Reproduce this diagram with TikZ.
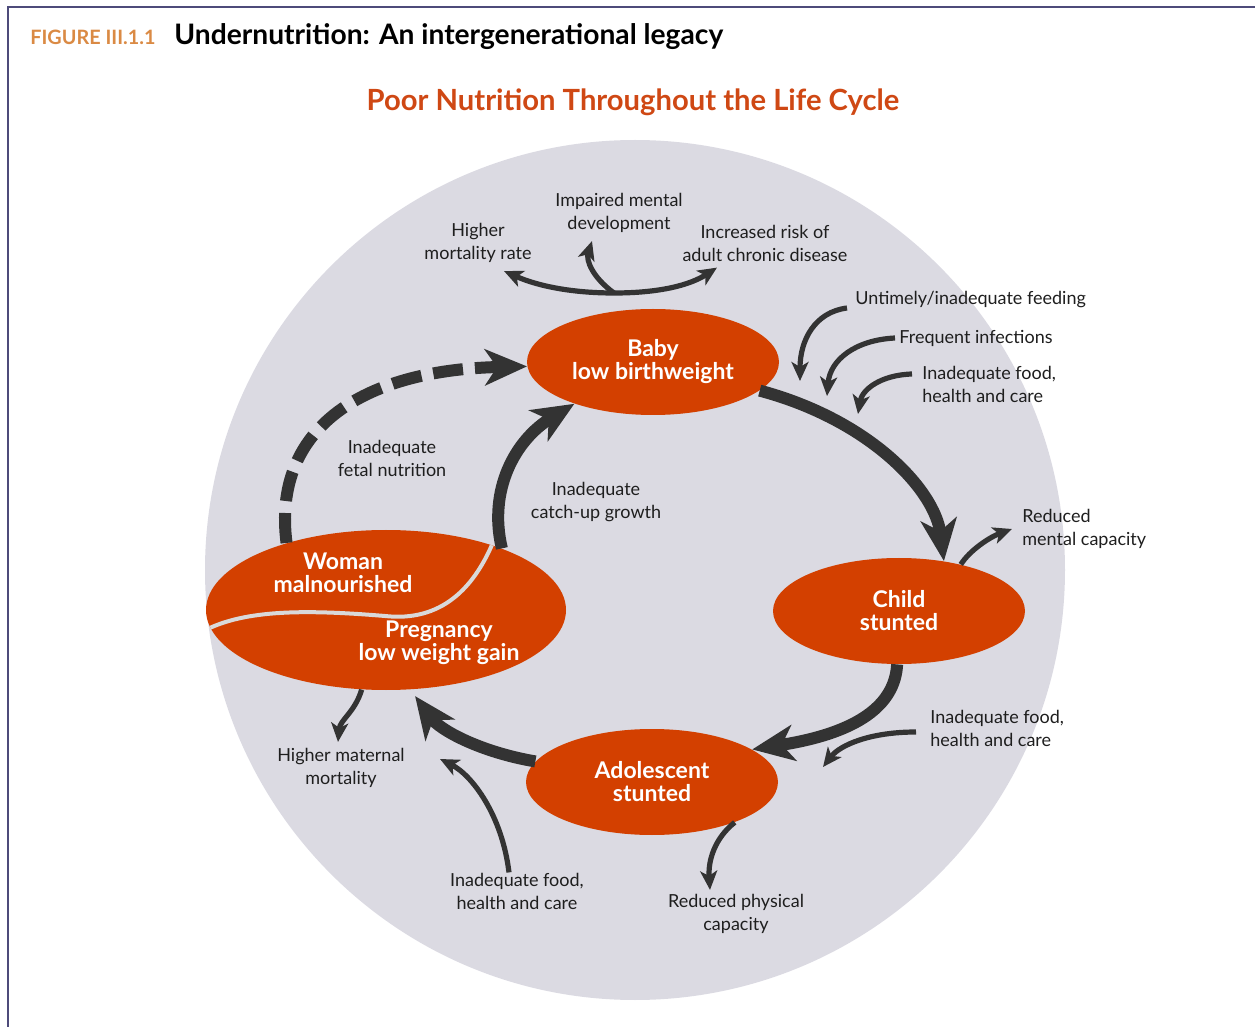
\documentclass[tikz,border=0pt]{standalone}
\usepackage{fontspec}
\setmainfont{Lato}
\usetikzlibrary{shapes.geometric, arrows.meta, positioning}
\definecolor{circlecol}{RGB}{219,218,226}
\definecolor{stagecol}{RGB}{211,64,0}
\definecolor{headcol}{RGB}{207,72,20}
\definecolor{figcol}{RGB}{218,138,68}
\definecolor{arrowcol}{RGB}{51,51,51}
\definecolor{framecol}{RGB}{77,75,122}
\definecolor{splitcol}{RGB}{217,217,217}
\definecolor{notecol}{RGB}{30,30,30}

\begin{document}
\begin{tikzpicture}[
	x=0.5pt, y=-0.5pt,
	stagetext/.style={
		text=white,
		font=\bfseries\fontsize{11.5}{11.5}\selectfont,
		align=center,
		inner sep=0pt
	},
	stage/.style={
		stagetext,
		ellipse,
		fill=stagecol,
		minimum width=126pt,
		minimum height=53pt
	},
	note/.style={
		text=notecol,
		font=\fontsize{9}{11.5}\selectfont,
		align=center,
		inner sep=0pt
	},
	bigarrow/.style={
		draw=arrowcol,
		line width=6pt,
		-{Stealth[length=21pt, width=18pt, inset=6pt]}
	},
	smallarrow/.style={
		draw=arrowcol,
		line width=2.6pt,
		-{Stealth[length=9.5pt, width=8.5pt, inset=2.5pt]}
	}
	]
	\useasboundingbox (0,0) rectangle (1255,1027);
	
	% Frame and titles
	\draw[framecol, line width=1pt] (1255,7) -- (8,7) -- (8,1027);
	\node[anchor=base west, inner sep=0pt, text=figcol, font=\bfseries\fontsize{9.9}{11}\selectfont] (fig) at (30,45) {FIGURE III.1.1};
	\node[anchor=base west, inner sep=0pt, font=\bfseries\fontsize{14.1}{16}\selectfont] (title) at (174,45) {Undernutrition: An intergenerational legacy};
	\node[anchor=base, inner sep=0pt, text=headcol, font=\bfseries\fontsize{14.6}{16}\selectfont] (subtitle) at (633,111) {Poor Nutrition Throughout the Life Cycle};
	
	% Background
	\fill[circlecol] (635,570) circle [radius=430];
	
	% Stages
	\node[stage] (baby) at (653,362) {Baby\\low birthweight};
	\node[stage] (child) at (899,611) {Child\\stunted};
	\node[stage] (adol) at (652,782) {Adolescent\\stunted};
	\node[stage, minimum width=180pt, minimum height=80pt] (woman) at (386,610) {};
	\begin{scope}
		\clip (386,610) ellipse [x radius=180, y radius=80];
		\draw[splitcol, line width=2pt] (200,633) .. controls (240,610) and (300,609) .. (385,616)
			.. controls (440,622) and (475,590) .. (496,535);
	\end{scope}
	\node[stagetext] (womantxt) at (343,573) {Woman\\malnourished};
	\node[stagetext] (pregtxt) at (439,643) {Pregnancy\\low weight gain};
	
	% Notes
	\node[note] (mental) at (619,213) {Impaired mental\\development};
	\node[note] (mortality) at (478,243) {Higher\\mortality rate};
	\node[note] (chronic) at (765,243) {Increased risk of\\adult chronic disease};
	\node[note, anchor=west] (feeding) at (855,300) {Untimely/inadequate feeding};
	\node[note, anchor=west] (infect) at (899,338) {Frequent infections};
	\node[note, anchor=west, align=left] (fooda) at (922,384) {Inadequate food,\\health and care};
	\node[note] (fetal) at (392,458) {Inadequate\\fetal nutrition};
	\node[note] (catchup) at (596,502) {Inadequate\\catch-up growth};
	\node[note, anchor=west, align=left] (mentcap) at (1022,529) {Reduced\\mental capacity};
	\node[note, anchor=west, align=left] (foodb) at (930,728) {Inadequate food,\\health and care};
	\node[note] (maternal) at (341,768) {Higher maternal\\mortality};
	\node[note] (foodc) at (517,891) {Inadequate food,\\health and care};
	\node[note] (physical) at (736,914) {Reduced physical\\capacity};
	
	% Free ends
	\coordinate (fork) at (614,293);
	\coordinate (feedpt) at (800,381);
	\coordinate (infectpt) at (827,396);
	\coordinate (foodapt) at (858,414);
	\coordinate (foodbpt) at (823,767);
	\coordinate (foodcpt) at (440,759);
	
	% Life cycle
	\draw[bigarrow] (baby.345) .. controls (870,420) and (935,490) .. (child.48);
	\draw[bigarrow] (child.268) .. controls (895,705) and (858,733) .. (adol.18);
	\draw[bigarrow, shorten >=4pt] (adol.170) .. controls (480,752) and (440,730) .. (woman.287);
	\draw[bigarrow] (woman.28) .. controls (488,490) and (515,440) .. (baby.208);
	\draw[bigarrow, dash pattern=on 15pt off 6pt] (woman.146) .. controls (272,430) and (360,370) .. (baby.182);
	
	% Effects and causes
	\draw[smallarrow] (fork) .. controls (575,293) and (540,287) .. ([xshift=13pt, yshift=-4pt]mortality.south);
	\draw[smallarrow] (fork) .. controls (660,293) and (690,285) .. ([xshift=-24pt, yshift=-3pt]chronic.south);
	\draw[smallarrow] (fork) .. controls (592,277) and (586,260) .. ([xshift=-13.5pt, yshift=-4pt]mental.south);
	\draw[smallarrow] ([xshift=-4pt, yshift=-4pt]feeding.west) .. controls (815,312) and (800,340) .. (feedpt);
	\draw[smallarrow] ([xshift=-2pt]infect.west) .. controls (855,340) and (830,360) .. (infectpt);
	\draw[smallarrow] ([xshift=-5pt, yshift=5pt]fooda.west) .. controls (880,375) and (862,390) .. (foodapt);
	\draw[smallarrow] (child.37) .. controls (970,550) and (990,537) .. ([xshift=-5pt]mentcap.west);
	\draw[smallarrow] ([xshift=-7pt, yshift=-2pt]foodb.west) .. controls (870,732) and (840,745) .. (foodbpt);
	\draw[smallarrow] (adol.334) .. controls (715,838) and (708,860) .. ([xshift=-13pt, yshift=2pt]physical.north);
	\draw[smallarrow] (woman.253) .. controls (355,712) and (340,720) .. ([xshift=-1.5pt, yshift=3pt]maternal.north);
	\draw[smallarrow] ([xshift=-4pt]foodc.north) .. controls (502,815) and (472,775) .. (foodcpt);
\end{tikzpicture}
\end{document}
